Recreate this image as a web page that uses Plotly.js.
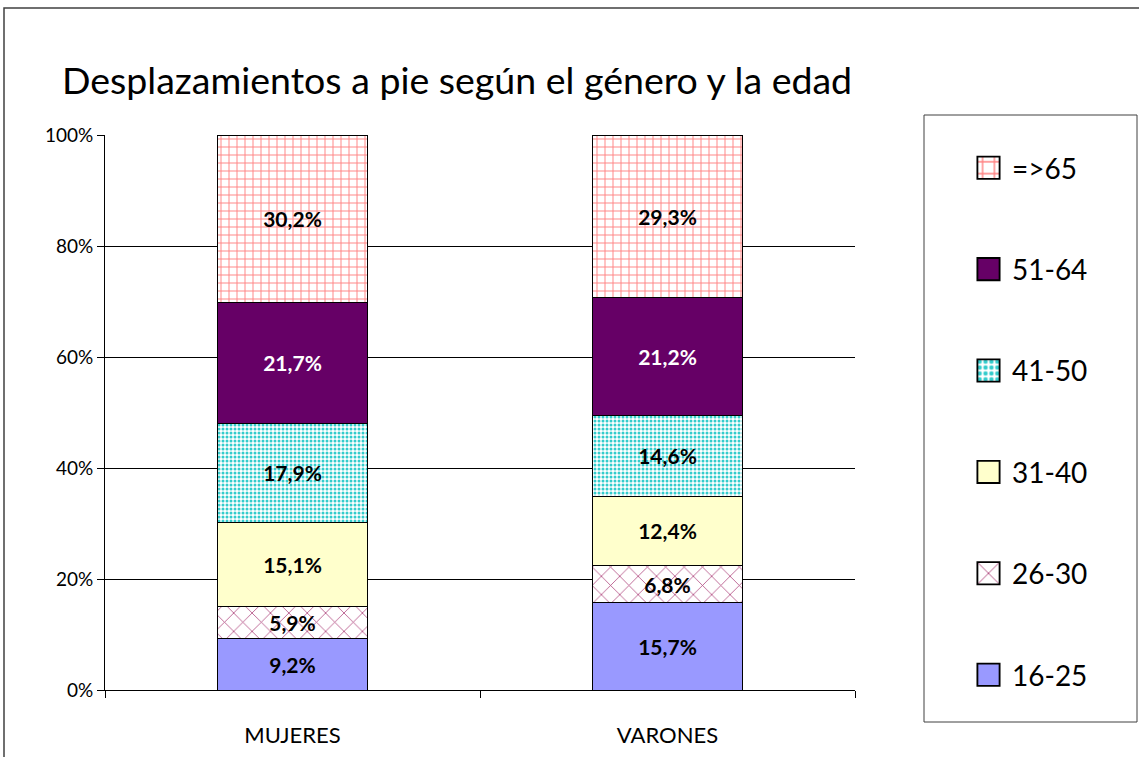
<!DOCTYPE html>
<html>
<head>
<meta charset="utf-8">
<script src="https://cdn.plot.ly/plotly-3.0.1.min.js"></script>
<style>
html,body{margin:0;padding:0;background:#fff;}
#chart{width:1139px;height:757px;}
</style>
</head>
<body>
<div id="chart"></div>
<script>
const categories = ["MUJERES", "VARONES"];
const seriesNames = ["16-25", "26-30", "31-40", "41-50", "51-64", "=>65"];
const v16_25 = [9.2, 15.7];
const v26_30 = [5.9, 6.8];
const v31_40 = [15.1, 12.4];
const v41_50 = [17.9, 14.6];
const v51_64 = [21.7, 21.2];
const v65 = [30.2, 29.3];
const yTicks = [0, 20, 40, 60, 80, 100];

const seriesValues = [v16_25, v26_30, v31_40, v41_50, v51_64, v65];
const styles = [
  {color: "#9999FF"},
  {color: "#FFFFFF", pattern: {shape: "x", fgcolor: "#B04A80", bgcolor: "#FFFFFF", size: 13, solidity: 0.12}},
  {color: "#FFFFCC"},
  {color: "#FFFFFF", pattern: {shape: ".", fgcolor: "#33CCCC", bgcolor: "#FFFFFF", size: 4, solidity: 0.45}},
  {color: "#660066"},
  {color: "#FFFFFF", pattern: {shape: "+", fgcolor: "#FF8080", bgcolor: "#FFFFFF", size: 8, solidity: 0.22}}
];
const fmt = v => v.toFixed(1).replace(".", ",") + "%";

const traces = seriesValues.map((vals, i) => {
  const st = styles[i];
  const marker = {color: st.color, line: {color: "#000", width: 1}};
  if (st.pattern) marker.pattern = st.pattern;
  return {
    type: "bar",
    name: seriesNames[i],
    x: categories,
    y: vals,
    text: vals.map(fmt),
    textposition: "inside",
    insidetextanchor: "middle",
    textangle: 0,
    textfont: {family: "Lato, sans-serif", size: 21, color: i === 4 ? "#FFFFFF" : "#000000", weight: "bold"},
    marker: marker,
    legendgroup: "g" + i,
    legendrank: (seriesValues.length - i) * 100,
    hoverinfo: "none"
  };
});

const px = p => (p - 105) / 750;
const py = p => (690 - p) / 555;

const layout = {
  width: 1139, height: 757,
  margin: {l: 105, r: 284, t: 135, b: 67},
  paper_bgcolor: "#FFFFFF",
  plot_bgcolor: "#FFFFFF",
  barmode: "stack",
  bargap: 0.6,
  title: {
    text: "Desplazamientos a pie según el género y la edad",
    font: {family: "Lato, sans-serif", size: 37.5, color: "#000"},
    x: 62 / 1139, xref: "container", xanchor: "left",
    y: 1 - 81 / 757, yref: "container", yanchor: "middle"
  },
  xaxis: {
    type: "category",
    showline: true, linecolor: "#000", linewidth: 1,
    ticks: "outside", tickson: "boundaries", ticklen: 7, tickcolor: "#000",
    ticklabelstandoff: 26,
    tickfont: {family: "Lato, sans-serif", size: 22, color: "#000"},
    showgrid: false, fixedrange: true
  },
  yaxis: {
    range: [0, 100],
    tickvals: yTicks,
    ticktext: yTicks.map(t => t + "%"),
    showline: true, linecolor: "#000", linewidth: 1,
    ticks: "outside", ticklen: 7, tickcolor: "#000",
    tickfont: {family: "Lato, sans-serif", size: 19, color: "#000"},
    showgrid: true, gridcolor: "#000", gridwidth: 1,
    zeroline: false, fixedrange: true
  },
  legend: {
    x: px(965), xanchor: "left",
    y: py(143), yanchor: "top",
    traceorder: "grouped",
    tracegroupgap: 62,
    itemwidth: 37,
    font: {family: "Lato, sans-serif", size: 28, color: "#000"},
    bgcolor: "rgba(0,0,0,0)",
    borderwidth: 0
  },
  shapes: [
    {type: "rect", xref: "paper", yref: "paper", x0: px(924), x1: px(1137), y0: py(722), y1: py(115),
     line: {color: "#404040", width: 1}, fillcolor: "rgba(0,0,0,0)", layer: "below"},
    {type: "rect", xref: "paper", yref: "paper", x0: px(4), x1: px(1300), y0: py(900), y1: py(8),
     line: {color: "#404040", width: 1.5}, fillcolor: "rgba(0,0,0,0)", layer: "below"}
  ],
  showlegend: true
};

Plotly.newPlot("chart", traces, layout, {displayModeBar: false, staticPlot: true}).then(gd => {
  gd.querySelectorAll(".legendpoints path").forEach(p => {
    const t = p.getAttribute("transform") || "";
    p.setAttribute("transform", t + " scale(1.85)");
  });
});
</script>
</body>
</html>
